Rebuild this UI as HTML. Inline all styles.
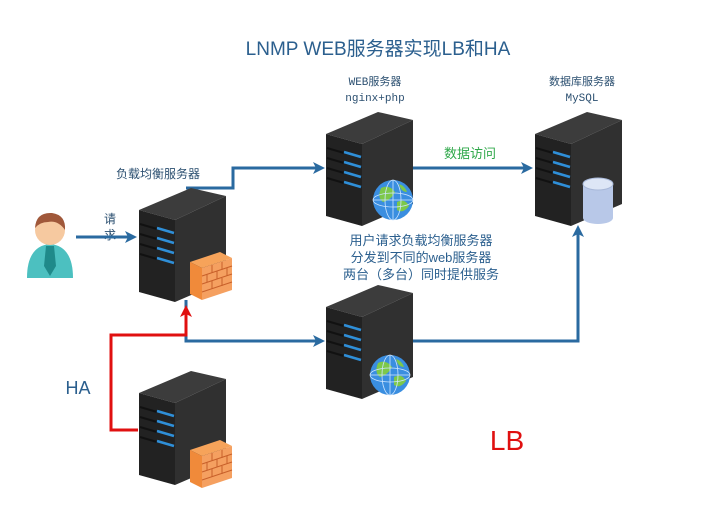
<!DOCTYPE html>
<html><head><meta charset="utf-8"><style>
body{margin:0;background:#fff;}
svg{display:block;font-family:"Liberation Sans","Noto Sans CJK SC",sans-serif;}
</style></head><body>
<svg width="725" height="511" viewBox="0 0 725 511" xmlns="http://www.w3.org/2000/svg">
<defs>
<g id="srv">
<polygon points="0,22 52,0 87,8 36,32" fill="#3c3c3c"/>
<polygon points="36,32 87,8 87,92 36,114" fill="#303030"/>
<polygon points="0,22 36,32 36,114 0,104" fill="#222"/>
<g stroke="#111" stroke-width="2">
<line x1="1" y1="36" x2="18" y2="41"/><line x1="1" y1="46" x2="18" y2="51"/>
<line x1="1" y1="56" x2="18" y2="61"/><line x1="1" y1="66" x2="18" y2="71"/>
</g>
<g stroke="#2f8fd8" stroke-width="2.5">
<line x1="18" y1="40" x2="35" y2="45"/><line x1="18" y1="50" x2="35" y2="55"/>
<line x1="18" y1="60" x2="35" y2="65"/><line x1="18" y1="70" x2="35" y2="75"/>
</g>
</g>
<g id="fw">
<polygon points="0,10 30,0 42,6 12,16" fill="#f6a35a"/>
<polygon points="0,10 12,16 12,48 0,42" fill="#f08a3a"/>
<polygon points="12,16 42,6 42,38 12,48" fill="#f5a060"/>
<g stroke="#c8602a" stroke-width="1" fill="none">
<line x1="12" y1="24" x2="42" y2="14"/><line x1="12" y1="32" x2="42" y2="22"/><line x1="12" y1="40" x2="42" y2="30"/>
<line x1="22" y1="13" x2="22" y2="21"/><line x1="32" y1="10" x2="32" y2="18"/><line x1="17" y1="22" x2="17" y2="30"/><line x1="27" y1="19" x2="27" y2="27"/><line x1="37" y1="16" x2="37" y2="24"/><line x1="22" y1="29" x2="22" y2="37"/><line x1="32" y1="26" x2="32" y2="34"/>
</g>
</g>
<g id="globe">
<circle r="20" fill="#3a8ee0"/>
<path d="M-12,-12 Q-4,-16 2,-8 Q-2,0 -10,2 Q-16,-2 -12,-12Z M4,2 Q12,-2 16,6 Q10,14 4,10Z M6,-16 Q12,-14 14,-8 Q8,-8 6,-16Z" fill="#7dc84a"/>
<g stroke="#cfe6ff" stroke-width="0.8" fill="none"><ellipse rx="20" ry="7"/><ellipse rx="8" ry="20"/><line x1="-20" y1="0" x2="20" y2="0"/><line x1="0" y1="-20" x2="0" y2="20"/></g>
</g>
<marker id="ab" markerWidth="12" markerHeight="12" refX="9" refY="6" orient="auto" markerUnits="userSpaceOnUse"><path d="M0,0 L12,6 L0,12 L3,6Z" fill="#2a6aa0"/></marker>
<marker id="ar" markerWidth="12" markerHeight="12" refX="9" refY="6" orient="auto" markerUnits="userSpaceOnUse"><path d="M0,0 L12,6 L0,12 L3,6Z" fill="#e01010"/></marker>
</defs>
<text x="378" y="55" text-anchor="middle" font-size="19" fill="#2b5f8e">LNMP WEB服务器实现LB和HA</text>
<g fill="#2b4f70" font-size="11" font-family="Liberation Mono,Noto Sans CJK SC,monospace" text-anchor="middle">
<text x="375" y="85">WEB服务器</text><text x="375" y="101">nginx+php</text>
<text x="582" y="85">数据库服务器</text><text x="582" y="101">MySQL</text>
</g>
<text x="470" y="158" text-anchor="middle" font-size="13" fill="#2fa84a">数据访问</text>
<text x="158" y="178" text-anchor="middle" font-size="12" fill="#2b4f70">负载均衡服务器</text>
<text x="110" y="223" text-anchor="middle" font-size="12" fill="#2b4f70">请</text>
<text x="110" y="239" text-anchor="middle" font-size="12" fill="#2b4f70">求</text>
<g font-size="13" fill="#2b5f8e" text-anchor="middle">
<text x="421" y="245">用户请求负载均衡服务器</text>
<text x="421" y="262">分发到不同的web服务器</text>
<text x="421" y="279">两台（多台）同时提供服务</text>
</g>
<text x="78" y="394" text-anchor="middle" font-size="18" fill="#2b5f8e">HA</text>
<text x="507" y="450" text-anchor="middle" font-size="28" fill="#e01010">LB</text>
<g stroke="#2a6aa0" stroke-width="3" fill="none">
<line x1="76" y1="237" x2="134" y2="237" marker-end="url(#ab)"/>
<polyline points="186,188 233,188 233,168 322,168" marker-end="url(#ab)"/>
<line x1="412" y1="168" x2="530" y2="168" marker-end="url(#ab)"/>
<polyline points="186,300 186,341 322,341" marker-end="url(#ab)"/>
<polyline points="412,341 578,341 578,228" marker-end="url(#ab)"/>
</g>
<polyline points="138,430 111,430 111,335 186,335 186,308" stroke="#e01010" stroke-width="3" fill="none" marker-end="url(#ar)"/>
<path d="M27,278 Q27,246 50,244 Q73,246 73,278Z" fill="#4cc0c0"/>
<path d="M46,246 L54,246 L56,266 L50,276 L44,266Z" fill="#1f8a8a"/>
<circle cx="50" cy="230" r="15" fill="#f6c9a0"/>
<path d="M35,228 Q36,212 52,213 Q66,215 65,230 Q58,220 48,222 Q40,222 35,228Z" fill="#a0583a"/>
<use href="#srv" x="139" y="188"/>
<use href="#fw" x="190" y="252"/>
<use href="#srv" x="139" y="371"/>
<use href="#fw" x="190" y="440"/>
<use href="#srv" x="326" y="112"/>
<use href="#globe" x="393" y="200"/>
<use href="#srv" x="326" y="285"/>
<use href="#globe" x="390" y="375"/>
<use href="#srv" x="535" y="112"/>
<path d="M583,184 L583,218 A15,6 0 0 0 613,218 L613,184Z" fill="#b8c8e8"/>
<ellipse cx="598" cy="184" rx="15" ry="6" fill="#dde6f6" stroke="#a8b8d8"/>
</svg>
</body></html>
